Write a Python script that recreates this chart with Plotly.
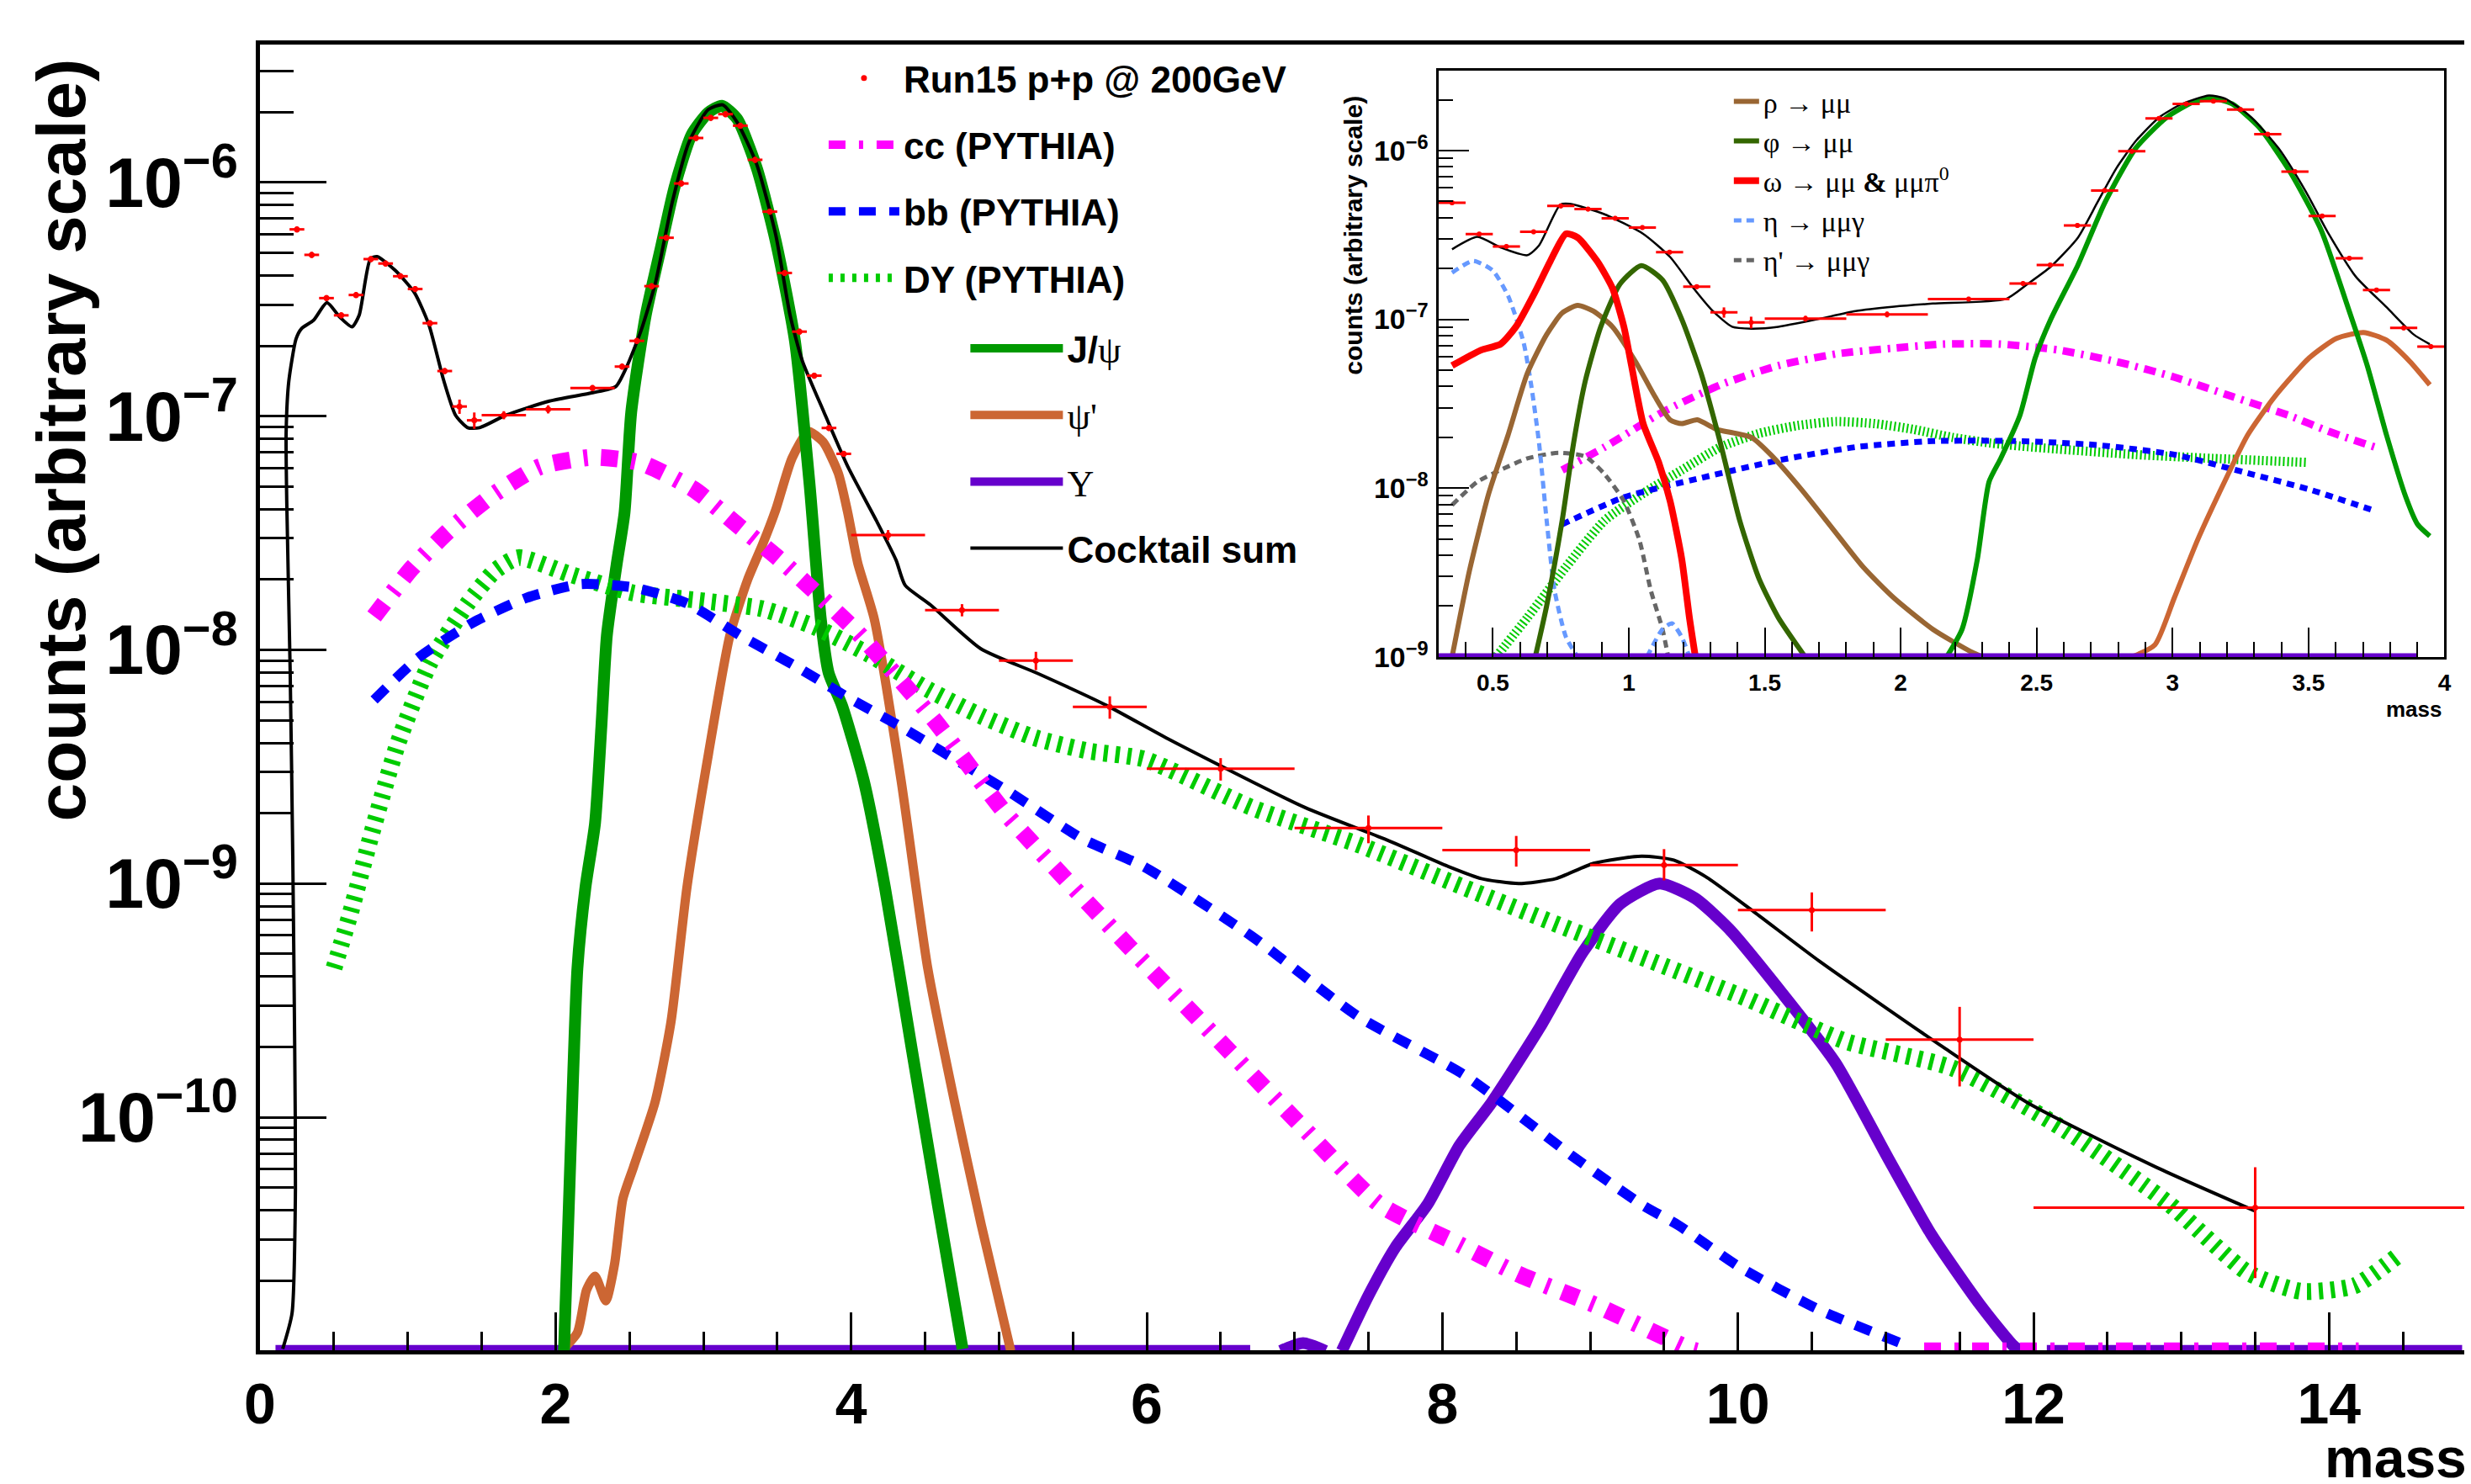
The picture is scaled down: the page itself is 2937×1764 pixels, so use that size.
import plotly.graph_objects as go

# ---------------- data: measured points ----------------
data_mass = [0.25, 0.35, 0.45, 0.55, 0.65, 0.75, 0.85, 0.95, 1.05, 1.15, 1.25, 1.35, 1.45,
             1.65, 1.95, 2.25,
             2.45, 2.55, 2.65, 2.75, 2.85, 2.95, 3.05, 3.15, 3.25, 3.35, 3.45, 3.55, 3.65, 3.75, 3.85, 3.95,
             4.25, 4.75, 5.25, 5.75,
             6.5, 7.5, 8.5, 9.5, 10.5, 11.5,
             13.5]
data_halfwidth = [0.05, 0.05, 0.05, 0.05, 0.05, 0.05, 0.05, 0.05, 0.05, 0.05, 0.05, 0.05, 0.05,
                  0.15, 0.15, 0.15,
                  0.05, 0.05, 0.05, 0.05, 0.05, 0.05, 0.05, 0.05, 0.05, 0.05, 0.05, 0.05, 0.05, 0.05, 0.05, 0.05,
                  0.25, 0.25, 0.25, 0.25,
                  0.5, 0.5, 0.5, 0.5, 0.5, 0.5,
                  1.5]
data_counts = [6.3e-7, 4.9e-7, 3.2e-7, 2.7e-7, 3.3e-7, 4.7e-7, 4.5e-7, 3.97e-7, 3.5e-7, 2.5e-7, 1.56e-7, 1.1e-7, 9.6e-8,
               1.01e-7, 1.07e-7, 1.32e-7,
               1.63e-7, 2.1e-7, 3.6e-7, 5.8e-7, 9.9e-7, 1.55e-6, 1.89e-6, 1.96e-6, 1.75e-6, 1.25e-6, 7.5e-7, 4.1e-7,
               2.3e-7, 1.49e-7, 8.9e-8, 6.9e-8,
               3.1e-8, 1.48e-8, 9.0e-9, 5.7e-9,
               3.1e-9, 1.73e-9, 1.39e-9, 1.2e-9, 7.7e-10, 2.15e-10,
               4.1e-11]
data_relerr_up = [0.03, 0.03, 0.03, 0.03, 0.03, 0.03, 0.03, 0.03, 0.03, 0.03, 0.03, 0.07, 0.08,
                  0.04, 0.04, 0.03,
                  0.03, 0.03, 0.03, 0.03, 0.03, 0.03, 0.03, 0.03, 0.03, 0.03, 0.03, 0.03, 0.03, 0.03, 0.03, 0.03,
                  0.05, 0.06, 0.09, 0.11,
                  0.11, 0.13, 0.15, 0.17, 0.19, 0.38,
                  0.49]
data_relerr_dn = [0.03, 0.03, 0.03, 0.03, 0.03, 0.03, 0.03, 0.03, 0.03, 0.03, 0.03, 0.07, 0.08,
                  0.04, 0.04, 0.03,
                  0.03, 0.03, 0.03, 0.03, 0.03, 0.03, 0.03, 0.03, 0.03, 0.03, 0.03, 0.03, 0.03, 0.03, 0.03, 0.03,
                  0.05, 0.06, 0.09, 0.11,
                  0.11, 0.14, 0.15, 0.14, 0.19, 0.37,
                  0.50]

# ---------------- main panel curves ----------------
sum_mass = [0.154, 0.217, 0.240, 0.235, 0.222, 0.204, 0.181, 0.177, 0.195, 0.244, 0.281, 0.362, 0.453, 0.541,
            0.623, 0.671, 0.746, 0.792, 0.916, 1.046, 1.144, 1.242, 1.323, 1.405, 1.486, 1.665, 1.958, 2.252,
            2.408, 2.48, 2.577, 2.675, 2.789, 2.903, 3.033, 3.131, 3.229, 3.36, 3.49, 3.587, 3.669, 3.816,
            3.978, 4.174, 4.304, 4.365, 4.535, 4.878, 5.259, 5.729, 6.163, 7.068, 7.611, 8.045, 8.263, 8.516,
            8.769, 9.023, 9.348, 9.566, 9.782, 10.108, 10.55, 11.386, 11.964, 12.832, 13.494]
sum_counts = [1.02e-11, 1.45e-11, 4.9e-11, 2.0e-10, 1.29e-9, 8.3e-9, 4.37e-8, 8.5e-8, 1.41e-7, 2.14e-7,
              2.37e-7, 2.57e-7, 3.06e-7, 2.65e-7, 2.41e-7, 2.70e-7, 4.70e-7, 4.82e-7, 4.20e-7, 3.37e-7,
              2.45e-7, 1.43e-7, 1.01e-7, 8.93e-8, 8.93e-8, 1.01e-7, 1.16e-7, 1.26e-7, 1.34e-7, 1.62e-7,
              2.31e-7, 3.70e-7, 8.20e-7, 1.49e-6, 2.05e-6, 2.15e-6, 1.81e-6, 1.20e-6, 5.96e-7, 2.70e-7,
              1.73e-7, 1.04e-7, 6.07e-8, 3.54e-8, 2.42e-8, 1.89e-8, 1.56e-8, 1.01e-8, 7.94e-9, 5.78e-9,
              4.10e-9, 2.12e-9, 1.55e-9, 1.18e-9, 1.05e-9, 1.0e-9, 1.05e-9, 1.22e-9, 1.31e-9, 1.26e-9,
              1.07e-9, 7.57e-10, 4.66e-10, 2.0e-10, 1.15e-10, 6.1e-11, 3.98e-11]

jpsi_mass = [2.057, 2.101, 2.148, 2.202, 2.267, 2.310, 2.347, 2.412, 2.467, 2.512, 2.61, 2.707, 2.806, 2.92,
             3.033, 3.125, 3.229, 3.36, 3.49, 3.62, 3.72, 3.795, 3.848, 3.938, 4.085, 4.229, 4.41, 4.592, 4.754]
jpsi_counts = [1.0e-11, 6.84e-11, 4.35e-10, 9.6e-10, 1.81e-9, 4.69e-9, 1.15e-8, 2.29e-8, 3.88e-8, 1.04e-7,
               2.70e-7, 5.08e-7, 9.59e-7, 1.60e-6, 1.99e-6, 2.13e-6, 1.87e-6, 1.16e-6, 5.60e-7, 2.09e-7,
               5.0e-8, 1.35e-8, 7.96e-9, 5.78e-9, 2.76e-9, 9.6e-10, 1.96e-10, 4.02e-11, 1.02e-11]

psi2s_mass = [2.04, 2.148, 2.209, 2.267, 2.34, 2.40, 2.455, 2.528, 2.673, 2.781, 2.889, 3.035, 3.179, 3.30,
              3.40, 3.49, 3.60, 3.712, 3.81, 3.913, 3.976, 4.044, 4.157, 4.338, 4.518, 4.70, 4.88, 5.08]
psi2s_counts = [1.0e-11, 1.2e-11, 1.82e-11, 2.09e-11, 1.64e-11, 2.37e-11, 4.47e-11, 6.14e-11, 1.16e-10,
                2.56e-10, 9.64e-10, 3.6e-9, 1.15e-8, 2.0e-8, 2.82e-8, 3.98e-8, 6.61e-8, 8.59e-8, 7.76e-8,
                5.70e-8, 3.89e-8, 2.36e-8, 1.35e-8, 2.76e-9, 4.35e-10, 1.16e-10, 3.47e-11, 1.0e-11]

ups_mass = [0.105, 6.70, None, 6.906, 7.058, 7.21, None, 7.32, 7.503, 7.683, 7.90, 8.117, 8.335, 8.661,
            8.95, 9.204, 9.47, 9.71, 9.94, 10.30, 10.66, 11.02, 11.31, 11.637, 11.873, 11.93, None, 12.09, 14.9]
ups_counts = [1e-11, 1e-11, None, 1e-11, 1.08e-11, 1e-11, None, 1e-11, 1.74e-11, 2.78e-11, 4.24e-11, 7.59e-11,
              1.16e-10, 2.43e-10, 5.08e-10, 8.18e-10, 1.0e-9, 8.65e-10, 6.4e-10, 3.39e-10, 1.71e-10, 6.61e-11,
              3.14e-11, 1.58e-11, 1.04e-11, 1e-11, None, 1e-11, 1e-11]

cc_mass = [0.772, 1.026, 1.279, 1.567, 1.893, 2.252, 2.577, 2.936, 3.229, 3.522, 4.047, 4.555, 5.041, 5.548,
           6.055, 6.561, 7.068, 7.575, 8.118, 8.516, 9.058, 9.674, 9.72, None, 11.26, 14.2]
cc_counts = [1.39e-8, 2.23e-8, 3.24e-8, 4.56e-8, 6.07e-8, 6.67e-8, 6.31e-8, 4.86e-8, 3.43e-8, 2.42e-8,
             1.18e-8, 5.07e-9, 2.01e-9, 8.97e-10, 4.11e-10, 1.91e-10, 8.89e-11, 4.24e-11, 2.85e-11,
             2.13e-11, 1.55e-11, 1.02e-11, 1e-11, None, 1e-11, 1e-11]

bb_mass = [0.772, 1.08, 1.442, 1.804, 2.166, 2.528, 2.89, 3.252, 3.614, 3.976, 4.336, 4.699, 5.063, 5.568,
           5.982, 6.707, 7.43, 8.154, 8.877, 9.357, 9.60, 10.009, 10.55, 11.167]
bb_counts = [6.11e-9, 9.33e-9, 1.31e-8, 1.67e-8, 1.91e-8, 1.85e-8, 1.58e-8, 1.15e-8, 8.59e-9, 6.27e-9,
             4.69e-9, 3.41e-9, 2.48e-9, 1.55e-9, 1.18e-9, 5.97e-10, 2.7e-10, 1.51e-10, 6.84e-11, 4.2e-11,
             3.44e-11, 2.29e-11, 1.5e-11, 1.04e-11]

dy_mass = [0.501, 0.61, 0.755, 0.935, 1.152, 1.406, 1.587, 1.75, 2.094, 2.528, 2.962, 3.397, 3.758, 4.12,
           4.518, 4.88, 5.242, 5.604, 5.982, 6.707, 7.43, 8.154, 8.877, 9.45, 10.05, 10.733, 11.456, 12.18,
           12.905, 13.448, 13.81, 14.17, 14.46]
dy_counts = [4.35e-10, 7.4e-10, 1.63e-9, 4.01e-9, 8.83e-9, 1.58e-8, 2.17e-8, 2.48e-8, 2.11e-8, 1.75e-8,
             1.63e-8, 1.5e-8, 1.25e-8, 9.57e-9, 6.78e-9, 5.21e-9, 4.21e-9, 3.69e-9, 3.41e-9, 2.12e-9,
             1.47e-9, 9.59e-10, 6.31e-10, 4.57e-10, 3.24e-10, 2.11e-10, 1.62e-10, 9.08e-11, 4.32e-11,
             2.17e-11, 1.8e-11, 1.9e-11, 2.54e-11]

# ---------------- inset curves (low-mass zoom) ----------------
in_sum_mass = [0.350, 0.443, 0.528, 0.627, 0.67, 0.748, 0.783, 0.911, 1.053, 1.152, 1.238, 1.309, 1.38,
               1.451, 1.55, 1.692, 1.834, 1.976, 2.118, 2.387, 2.467, 2.552, 2.652, 2.723, 2.794, 2.865,
               2.95, 3.035, 3.134, 3.191, 3.29, 3.39, 3.489, 3.574, 3.674, 3.787, 3.887, 3.946]
in_sum_counts = [2.6e-7, 3.08e-7, 2.67e-7, 2.4e-7, 2.74e-7, 4.78e-7, 4.83e-7, 4.19e-7, 3.21e-7, 2.34e-7,
                 1.53e-7, 1.12e-7, 9.04e-8, 8.81e-8, 9.04e-8, 1.0e-7, 1.12e-7, 1.19e-7, 1.24e-7, 1.32e-7,
                 1.62e-7, 2.05e-7, 3.05e-7, 4.91e-7, 7.89e-7, 1.14e-6, 1.57e-6, 1.89e-6, 2.12e-6, 2.04e-6,
                 1.57e-6, 1.03e-6, 5.75e-7, 3.21e-7, 1.79e-7, 1.18e-7, 8.13e-8, 7.13e-8]

in_jpsi_mass = [2.169, 2.226, 2.282, 2.325, 2.368, 2.438, 2.495, 2.552, 2.652, 2.751, 2.864, 2.978, 3.077,
                3.148, 3.219, 3.319, 3.432, 3.546, 3.645, 3.716, 3.787, 3.858, 3.901, 3.946]
in_jpsi_counts = [1e-9, 1.46e-9, 3.79e-9, 1.09e-8, 1.5e-8, 2.68e-8, 5.92e-8, 1.0e-7, 2.1e-7, 4.91e-7,
                  1.03e-6, 1.57e-6, 1.94e-6, 2.04e-6, 1.89e-6, 1.37e-6, 7.48e-7, 3.39e-7, 1.18e-7, 5.32e-8,
                  2.06e-8, 8.83e-9, 6.1e-9, 5.2e-9]

in_psi2s_mass = [2.85, 2.935, 3.006, 3.092, 3.191, 3.276, 3.376, 3.503, 3.603, 3.702, 3.787, 3.873, 3.946]
in_psi2s_counts = [1e-9, 1.18e-9, 2.23e-9, 4.93e-9, 1.09e-8, 2.06e-8, 3.49e-8, 5.92e-8, 7.71e-8, 8.36e-8,
                   7.52e-8, 5.62e-8, 4.09e-8]

in_cc_mass = [0.755, 0.911, 1.124, 1.337, 1.55, 1.763, 1.976, 2.155, 2.368, 2.58, 2.793, 3.006, 3.219,
              3.432, 3.574, 3.745]
in_cc_counts = [1.28e-8, 1.75e-8, 2.82e-8, 4.09e-8, 5.32e-8, 6.24e-8, 6.76e-8, 7.13e-8, 7.13e-8, 6.58e-8,
                5.62e-8, 4.55e-8, 3.49e-8, 2.68e-8, 2.17e-8, 1.75e-8]

in_bb_mass = [0.755, 0.982, 1.266, 1.55, 1.834, 2.118, 2.438, 2.722, 3.006, 3.29, 3.503, 3.745]
in_bb_counts = [6.1e-9, 8.83e-9, 1.15e-8, 1.46e-8, 1.75e-8, 1.9e-8, 1.9e-8, 1.8e-8, 1.58e-8, 1.21e-8,
                9.82e-9, 7.33e-9]

in_dy_mass = [0.514, 0.627, 0.769, 0.911, 1.053, 1.195, 1.337, 1.479, 1.621, 1.763, 1.905, 2.047, 2.189,
              2.331, 2.487, 2.864, 3.148, 3.496]
in_dy_counts = [1.01e-9, 1.71e-9, 3.41e-9, 6.43e-9, 9.31e-9, 1.28e-8, 1.75e-8, 2.11e-8, 2.35e-8, 2.48e-8,
                2.41e-8, 2.23e-8, 2.0e-8, 1.85e-8, 1.75e-8, 1.58e-8, 1.5e-8, 1.42e-8]

rho_mass = [0.35, 0.414, 0.485, 0.556, 0.627, 0.698, 0.755, 0.812, 0.869, 0.94, 1.025, 1.096, 1.152, 1.195,
            1.252, 1.323, 1.394, 1.451, 1.522, 1.635, 1.749, 1.862, 1.976, 2.118, 2.26, 2.302]
rho_counts = [1e-9, 3.24e-9, 9.31e-9, 2.06e-8, 4.79e-8, 8.13e-8, 1.09e-7, 1.21e-7, 1.12e-7, 9.04e-8,
              5.61e-8, 3.49e-8, 2.54e-8, 2.41e-8, 2.54e-8, 2.23e-8, 2.11e-8, 2.0e-8, 1.58e-8, 9.82e-9,
              5.78e-9, 3.41e-9, 2.23e-9, 1.46e-9, 1.07e-9, 1e-9]

phi_mass = [0.656, 0.698, 0.755, 0.797, 0.84, 0.897, 0.968, 1.046, 1.124, 1.195, 1.266, 1.337, 1.408, 1.479,
            1.55, 1.649]
phi_counts = [1e-9, 2.01e-9, 6.43e-9, 1.85e-8, 4.31e-8, 9.04e-8, 1.62e-7, 2.08e-7, 1.71e-7, 1.0e-7, 4.79e-8,
              1.85e-8, 6.43e-9, 2.91e-9, 1.71e-9, 1e-9]

omega_mass = [0.35, 0.457, 0.528, 0.585, 0.656, 0.712, 0.769, 0.812, 0.883, 0.94, 0.982, 1.01, 1.053, 1.11,
              1.152, 1.195, 1.223, 1.245]
omega_counts = [5.32e-8, 6.58e-8, 7.13e-8, 9.04e-8, 1.46e-7, 2.22e-7, 3.21e-7, 3.05e-7, 2.22e-7, 1.53e-7,
                9.04e-8, 5.32e-8, 2.41e-8, 1.42e-8, 8.38e-9, 3.79e-9, 1.71e-9, 1e-9]

eta_mass = [0.35, 0.428, 0.499, 0.556, 0.613, 0.641, 0.67, 0.698, 0.727, 0.769, 0.812, None, 1.067, 1.124,
            1.159, 1.195, 1.223]
eta_counts = [1.89e-7, 2.22e-7, 1.95e-7, 1.38e-7, 7.31e-8, 4.09e-8, 1.85e-8, 6.43e-9, 2.48e-9, 1.31e-9, 1e-9,
              None, 1e-9, 1.46e-9, 1.58e-9, 1.31e-9, 1e-9]

etap_mass = [0.35, 0.443, 0.528, 0.627, 0.741, 0.84, 0.911, 0.982, 1.039, 1.081, 1.124, 1.145]
etap_counts = [7.94e-9, 1.09e-8, 1.28e-8, 1.5e-8, 1.62e-8, 1.54e-8, 1.21e-8, 8.38e-9, 4.93e-9, 2.48e-9,
               1.46e-9, 1e-9]

in_ups_mass = [0.3, 3.9]
in_ups_counts = [1e-9, 1e-9]

# ---------------- styling ----------------
SANS = "Liberation Sans, Arial, Helvetica, sans-serif"
SERIF = "Liberation Serif, Times New Roman, serif"
C_DATA, C_CC, C_BB, C_DY = "#ff0000", "#ff00ff", "#0000ff", "#00cc00"
C_JPSI, C_PSI2, C_UPS, C_SUM = "#009900", "#cc6633", "#6600cc", "#000000"
C_RHO, C_PHI, C_OMEGA, C_ETA, C_ETAP = "#996633", "#336600", "#ff0000", "#6699ff", "#666666"

err_up = [v * f for v, f in zip(data_counts, data_relerr_up)]
err_dn = [v * f for v, f in zip(data_counts, data_relerr_dn)]

fig = go.Figure()


def curve(x, y, color, width, dash=None, name=None, legend=None, axes=("x", "y"), rank=1000, group=None):
    fig.add_trace(go.Scatter(
        x=x, y=y, mode="lines", name=name or "",
        line=dict(color=color, width=width, dash=dash, shape="spline", smoothing=0.6),
        showlegend=legend is not None, legend=legend or "legend", legendrank=rank, legendgroup=group,
        xaxis=axes[0], yaxis=axes[1],
        connectgaps=False, hoverinfo="skip"))


def data_trace(axes, legend, thick, size):
    fig.add_trace(go.Scatter(
        x=data_mass, y=data_counts, mode="markers", name="<b>Run15 p+p @ 200GeV</b>",
        marker=dict(color=C_DATA, size=size),
        error_x=dict(type="data", array=data_halfwidth, color=C_DATA, thickness=thick, width=0),
        error_y=dict(type="data", symmetric=False, array=err_up, arrayminus=err_dn,
                     color=C_DATA, thickness=thick, width=0),
        showlegend=legend is not None, legend=legend or "legend", legendrank=1,
        legendgroup="g_data" if legend else None,
        xaxis=axes[0], yaxis=axes[1], hoverinfo="skip"))


def serif(s):
    return "<span style='font-family:%s'>%s</span>" % (SERIF, s)


# main panel (draw order: bottom first)
curve(ups_mass, ups_counts, C_UPS, 14, name=serif("Υ"), legend="legend2", rank=3, group="g_ups")
curve(psi2s_mass, psi2s_counts, C_PSI2, 11, name=serif("ψ'"), legend="legend2", rank=2, group="g_psi2")
curve(jpsi_mass, jpsi_counts, C_JPSI, 14, name="<b>J/</b>" + serif("ψ"), legend="legend2", rank=1,
      group="g_jpsi")
curve(dy_mass, dy_counts, C_DY, 20, dash="5px,9px", name="<b>DY (PYTHIA)</b>", legend="legend", rank=4,
      group="g_dy")
curve(bb_mass, bb_counts, C_BB, 12, dash="20px,16px", name="<b>bb (PYTHIA)</b>", legend="legend", rank=3,
      group="g_bb")
curve(cc_mass, cc_counts, C_CC, 20, dash="20px,16px,5px,16px", name="<b>cc (PYTHIA)</b>", legend="legend",
      rank=2, group="g_cc")
curve(sum_mass, sum_counts, C_SUM, 4, name="<b>Cocktail sum</b>", legend="legend2", rank=4, group="g_sum")
data_trace(("x", "y"), "legend", 3, 7)

# inset panel
ax2 = ("x2", "y2")
curve(in_dy_mass, in_dy_counts, C_DY, 11, dash="2px,3px", axes=ax2)
curve(in_bb_mass, in_bb_counts, C_BB, 7, dash="9px,7px", axes=ax2)
curve(in_cc_mass, in_cc_counts, C_CC, 9, dash="14px,8px,3px,8px", axes=ax2)
curve(etap_mass, etap_counts, C_ETAP, 5, dash="9px,6px", axes=ax2, legend="legend3",
      name=serif("η' → μμγ"), rank=5)
curve(eta_mass, eta_counts, C_ETA, 5, dash="9px,6px", axes=ax2, legend="legend3",
      name=serif("η → μμγ"), rank=4)
curve(rho_mass, rho_counts, C_RHO, 6, axes=ax2, legend="legend3", name=serif("ρ → μμ"), rank=1)
curve(phi_mass, phi_counts, C_PHI, 6, axes=ax2, legend="legend3", name=serif("φ → μμ"), rank=2)
curve(omega_mass, omega_counts, C_OMEGA, 8, axes=ax2, legend="legend3",
      name=serif("ω → μμ ") + "<b>&amp;</b>" + serif(" μμπ<sup>0</sup>"), rank=3)
curve(in_psi2s_mass, in_psi2s_counts, C_PSI2, 6, axes=ax2)
curve(in_jpsi_mass, in_jpsi_counts, C_JPSI, 6, axes=ax2)
curve(in_sum_mass, in_sum_counts, C_SUM, 2.5, axes=ax2)
data_trace(ax2, None, 3, 6)
curve(in_ups_mass, in_ups_counts, C_UPS, 9, axes=ax2)

legend_font_main = dict(family=SANS, size=44, color="black")
fig.update_layout(
    width=2937, height=1764,
    margin=dict(l=301, r=0, t=45, b=167),
    paper_bgcolor="white", plot_bgcolor="white",
    legend=dict(x=0.2553, y=0.997, xanchor="left", yanchor="top", bgcolor="rgba(0,0,0,0)",
                font=legend_font_main, itemwidth=84, tracegroupgap=19, traceorder="grouped"),
    legend2=dict(x=0.3194, y=0.790, xanchor="left", yanchor="top", bgcolor="rgba(0,0,0,0)",
                 font=legend_font_main, itemwidth=110, tracegroupgap=19, traceorder="grouped"),
    legend3=dict(x=0.6647, y=0.975, xanchor="left", yanchor="top", bgcolor="rgba(0,0,0,0)",
                 font=dict(family=SERIF, size=34, color="black"), itemwidth=30, tracegroupgap=0,
                 traceorder="normal"),
)

axis_common = dict(showgrid=False, zeroline=False, showline=True, linecolor="black",
                   ticks="inside", tickcolor="black")
fig.update_layout(
    xaxis=dict(**axis_common, domain=[0, 1], range=[0, 14.96], tick0=0, dtick=2, ticklen=45, tickwidth=3,
               linewidth=5, mirror=True, ticklabelstandoff=0,
               tickfont=dict(family=SANS, size=68, weight="bold", color="black"),
               minor=dict(ticks="inside", dtick=0.5, tick0=0, ticklen=22, tickwidth=3, tickcolor="black",
                          showgrid=False)),
    yaxis=dict(**axis_common, type="log", range=[-10.997, -5.41], dtick=1, ticklen=79, tickwidth=3,
               linewidth=5, mirror=False, exponentformat="power", showexponent="all",
               tickfont=dict(family=SANS, size=66, weight="bold", color="black"),
               ticklabelstandoff=8,
               minor=dict(ticks="inside", dtick="D1", ticklen=40, tickwidth=3, tickcolor="black",
                          showgrid=False)),
    xaxis2=dict(**axis_common, domain=[0.533, 0.988], anchor="y2", range=[0.3, 4], tick0=0, dtick=0.5,
                ticklen=35, tickwidth=2, linewidth=2.5, mirror=True, ticklabelstandoff=4,
                tickfont=dict(family=SANS, size=28, weight="bold", color="black"),
                minor=dict(ticks="inside", dtick=0.1, tick0=0, ticklen=18, tickwidth=2, tickcolor="black",
                           showgrid=False)),
    yaxis2=dict(**axis_common, domain=[0.531, 0.980], anchor="x2", type="log", range=[-9, -5.527], dtick=1,
                ticklen=37, tickwidth=2, linewidth=2.5, mirror=True, exponentformat="power",
                showexponent="all", ticklabelstandoff=4,
                tickfont=dict(family=SANS, size=27, weight="bold", color="black"),
                minor=dict(ticks="inside", dtick="D1", ticklen=18, tickwidth=2, tickcolor="black",
                           showgrid=False)),
)

fig.add_annotation(text="<b>counts (arbitrary scale)</b>", textangle=-90, xref="paper", yref="paper",
                   x=-0.0901, y=0.697, xanchor="center", yanchor="middle", showarrow=False,
                   font=dict(family=SANS, size=82, color="black"))
fig.add_annotation(text="<b>mass</b>", xref="paper", yref="paper", x=0.999, y=-0.0825, xanchor="right",
                   yanchor="middle", showarrow=False, font=dict(family=SANS, size=66, color="black"))
fig.add_annotation(text="<b>counts (arbitrary scale)</b>", textangle=-90, xref="paper", yref="paper",
                   x=0.4947, y=0.854, xanchor="center", yanchor="middle", showarrow=False,
                   font=dict(family=SANS, size=30, color="black"))
fig.add_annotation(text="<b>mass</b>", xref="paper", yref="paper", x=0.988, y=0.491, xanchor="right",
                   yanchor="middle", showarrow=False, font=dict(family=SANS, size=26, color="black"))

fig.write_html("out.html")
